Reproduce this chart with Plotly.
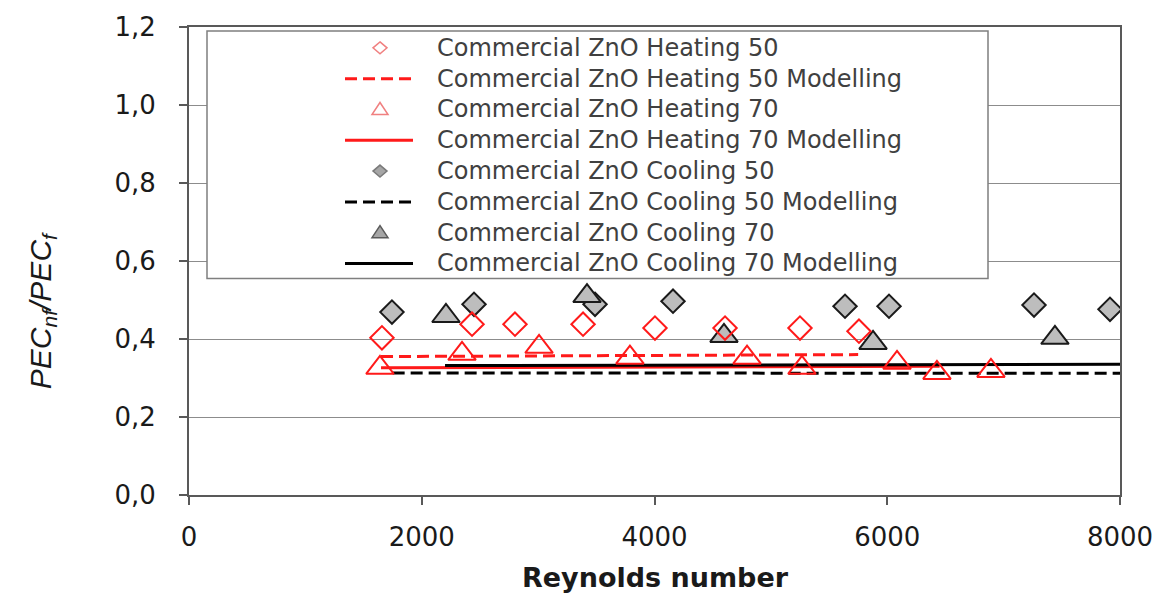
import plotly.graph_objects as go

# ---------------- data ----------------
heat50_re = [1658, 2432, 2801, 3386, 4004, 4606, 5250, 5757]
heat50_val = [0.403, 0.438, 0.438, 0.438, 0.428, 0.428, 0.428, 0.420]

heat70_re = [1641, 2346, 3008, 3789, 4795, 5267, 6084, 6427, 6891]
heat70_val = [0.326, 0.362, 0.380, 0.352, 0.352, 0.326, 0.339, 0.313, 0.318]

cool50_re = [1744, 2449, 3489, 4159, 5637, 6015, 7261, 7914]
cool50_val = [0.469, 0.489, 0.489, 0.497, 0.484, 0.484, 0.487, 0.476]

cool70_re = [2208, 3420, 4597, 5878, 7441]
cool70_val = [0.459, 0.510, 0.408, 0.390, 0.403]

heat50_mod_re = [1650, 5750]
heat50_mod_val = [0.355, 0.360]
heat70_mod_re = [1650, 6450]
heat70_mod_val = [0.326, 0.330]
cool50_mod_re = [1750, 8000]
cool50_mod_val = [0.313, 0.312]
cool70_mod_re = [2200, 8000]
cool70_mod_val = [0.332, 0.335]

y_ticks = [0.0, 0.2, 0.4, 0.6, 0.8, 1.0, 1.2]
y_tick_labels = ["0,0", "0,2", "0,4", "0,6", "0,8", "1,0", "1,2"]
x_ticks = [0, 2000, 4000, 6000, 8000]
x_tick_labels = ["0", "2000", "4000", "6000", "8000"]

legend_names = [
    "Commercial ZnO Heating 50",
    "Commercial ZnO Heating 50 Modelling",
    "Commercial ZnO Heating 70",
    "Commercial ZnO Heating 70 Modelling",
    "Commercial ZnO Cooling 50",
    "Commercial ZnO Cooling 50 Modelling",
    "Commercial ZnO Cooling 70",
    "Commercial ZnO Cooling 70 Modelling",
]

# ---------------- layout geometry ----------------
W, H = 1167, 598
L, R, T, B = 189, 47, 24, 103
PW, PH = W - L - R, H - T - B

def px(xp):
    return (xp - L) / PW

def py(yp):
    return (H - B - yp) / PH

RED = "#ff1a1a"
GRAY_FILL = "#bdbdbd"
DASH = "12px,6px"

fig = go.Figure()

# model lines
fig.add_trace(go.Scatter(x=heat50_mod_re, y=heat50_mod_val, mode="lines",
                         line=dict(color=RED, width=3, dash=DASH), showlegend=False))
fig.add_trace(go.Scatter(x=heat70_mod_re, y=heat70_mod_val, mode="lines",
                         line=dict(color=RED, width=3), showlegend=False))
fig.add_trace(go.Scatter(x=cool50_mod_re, y=cool50_mod_val, mode="lines",
                         line=dict(color="black", width=3, dash=DASH), showlegend=False))
fig.add_trace(go.Scatter(x=cool70_mod_re, y=cool70_mod_val, mode="lines",
                         line=dict(color="black", width=3), showlegend=False))

# experimental markers
fig.add_trace(go.Scatter(x=cool50_re, y=cool50_val, mode="markers",
                         marker=dict(symbol="diamond", size=18, color=GRAY_FILL,
                                     line=dict(color="#1a1a1a", width=2)), showlegend=False))
fig.add_trace(go.Scatter(x=cool70_re, y=cool70_val, mode="markers",
                         marker=dict(symbol="triangle-up", size=24, color=GRAY_FILL,
                                     line=dict(color="#1a1a1a", width=2)), showlegend=False))
fig.add_trace(go.Scatter(x=heat50_re, y=heat50_val, mode="markers",
                         marker=dict(symbol="diamond-open", size=18, color=RED,
                                     line=dict(color=RED, width=2)), showlegend=False))
fig.add_trace(go.Scatter(x=heat70_re, y=heat70_val, mode="markers",
                         marker=dict(symbol="triangle-up-open", size=24, color=RED,
                                     line=dict(color=RED, width=2)), showlegend=False))

# ---------------- custom legend ----------------
shapes = []
annotations = []
box_x0, box_x1, box_y0, box_y1 = 207, 988, 28, 277
shapes.append(dict(type="rect", xref="paper", yref="paper", layer="above",
                   x0=px(box_x0), x1=px(box_x1), y0=py(box_y1), y1=py(box_y0),
                   fillcolor="white", line=dict(color="#7f7f7f", width=1.5)))

row_y = [45 + 31 * i for i in range(8)]
sym_cx, line_x0, line_x1, text_x = 380, 345, 413, 435
diamond_path = "M0,6 L7,0 L0,-6 L-7,0 Z"
triangle_path = "M-8,-5 L8,-5 L0,7 Z"
legend_specs = [
    ("marker", diamond_path, "white", "#f08080"),
    ("line", RED, "dash"),
    ("marker", triangle_path, "white", "#f08080"),
    ("line", RED, "solid"),
    ("marker", diamond_path, "#a6a6a6", "#7a7a7a"),
    ("line", "black", "dash"),
    ("marker", triangle_path, "#a6a6a6", "#5a5a5a"),
    ("line", "black", "solid"),
]
for i, spec in enumerate(legend_specs):
    yc = py(row_y[i])
    if spec[0] == "marker":
        shapes.append(dict(type="path", xref="paper", yref="paper", layer="above",
                           xsizemode="pixel", ysizemode="pixel",
                           xanchor=px(sym_cx), yanchor=yc, path=spec[1],
                           fillcolor=spec[2], line=dict(color=spec[3], width=1.5)))
    else:
        shapes.append(dict(type="line", xref="paper", yref="paper", layer="above",
                           x0=px(line_x0), x1=px(line_x1), y0=yc, y1=yc,
                           line=dict(color=spec[1], width=3,
                                     dash=DASH if spec[2] == "dash" else "solid")))
    annotations.append(dict(xref="paper", yref="paper", x=px(text_x), y=yc,
                            xanchor="left", yanchor="middle", showarrow=False,
                            text=legend_names[i],
                            font=dict(family="DejaVu Sans", size=24, color="#404040")))

# axis titles
annotations.append(dict(xref="paper", yref="paper", x=px(655), y=py(578),
                        xanchor="center", yanchor="middle", showarrow=False,
                        text="<b>Reynolds number</b>",
                        font=dict(family="DejaVu Sans", size=27, color="#1a1a1a")))
annotations.append(dict(xref="paper", yref="paper", x=px(42), y=py(310),
                        xanchor="center", yanchor="middle", showarrow=False,
                        textangle=-90,
                        text="<i>PEC<sub>nf</sub>/PEC<sub>f</sub></i>",
                        font=dict(family="Liberation Sans", size=30, color="#1a1a1a")))

fig.update_layout(
    width=W, height=H,
    margin=dict(l=L, r=R, t=T, b=B, pad=0),
    paper_bgcolor="white", plot_bgcolor="white",
    showlegend=False,
    shapes=shapes, annotations=annotations,
    xaxis=dict(range=[0, 8000], tickvals=x_ticks, ticktext=x_tick_labels,
               showgrid=False, zeroline=False, showline=True, mirror=True,
               linecolor="#595959", linewidth=2, ticks="outside", ticklen=8,
               tickwidth=1.5, tickcolor="#595959", ticklabelstandoff=10,
               tickfont=dict(family="DejaVu Sans", size=26, color="#1a1a1a")),
    yaxis=dict(range=[0, 1.2], tickvals=y_ticks, ticktext=y_tick_labels,
               showgrid=True, gridcolor="#8c8c8c", gridwidth=1, zeroline=False,
               showline=True, mirror=True, linecolor="#595959", linewidth=2,
               ticks="outside", ticklen=8, tickwidth=1.5, tickcolor="#595959",
               ticklabelstandoff=18,
               tickfont=dict(family="DejaVu Sans", size=26, color="#1a1a1a")),
)

fig.write_html("out.html")
